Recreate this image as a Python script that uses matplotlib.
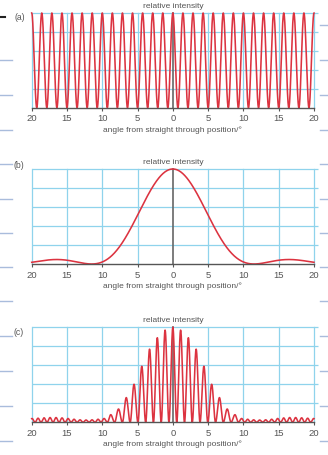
import matplotlib
matplotlib.use("Agg")
import matplotlib.pyplot as plt
import numpy as np
from matplotlib.lines import Line2D

W, H = 328, 456

# ---- values ----
ANGLE_TICKS = [-20, -15, -10, -5, 0, 5, 10, 15, 20]
TICK_LABELS = ["20", "15", "10", "5", "0", "5", "10", "15", "20"]
GRID_LEVELS = [0.2, 0.4, 0.6, 0.8, 1.0]
PANEL_LABELS = ["(a)", "(b)", "(c)"]

# (a) two-slit fringes: 14 fringes between 0 and 20 degrees
FRINGE_PERIOD_A = 20 / 14
# (b) single-slit envelope, first minimum near 11.5 degrees
FIRST_ZERO_B = 11.5
# (c) grating-like pattern: peak angles (one side, mirrored) and heights
PEAK_ANGLE_C = [0, 1.1, 2.2, 3.3, 4.4, 5.5, 6.6, 7.7, 8.8, 9.75, 10.6, 11.45,
                12.3, 13.15, 14.0, 14.85, 15.7, 16.55, 17.4, 18.25, 19.1,
                19.95, 20.8]
PEAK_HEIGHT_C = [1.0, 0.97, 0.89, 0.77, 0.59, 0.40, 0.26, 0.14, 0.08, 0.04,
                 0.032, 0.026, 0.024, 0.026, 0.032, 0.04, 0.046, 0.05, 0.05,
                 0.047, 0.043, 0.04, 0.036]

RED = "#dc3340"
CYAN = "#8fd3ec"
AXIS = "#555555"
TEXT = "#555555"
MARGIN = "#a9bcdc"
FONT = ["Liberation Sans Narrow", "Liberation Sans", "DejaVu Sans"]

theta = np.linspace(-20, 20, 4001)


def curve_a(t):
    return np.cos(np.pi * t / FRINGE_PERIOD_A) ** 2


def curve_b(t):
    return np.sinc(t / FIRST_ZERO_B) ** 2


def curve_c(t):
    a = np.abs(t)
    idx = np.interp(a, PEAK_ANGLE_C, np.arange(len(PEAK_ANGLE_C)))
    k = np.floor(idx).astype(int)
    frac = idx - k
    k1 = np.minimum(k + 1, len(PEAK_HEIGHT_C) - 1)
    h = np.where(frac < 0.5, np.take(PEAK_HEIGHT_C, k), np.take(PEAK_HEIGHT_C, k1))
    return h * np.cos(np.pi * frac) ** 2


plt.rcParams["font.family"] = FONT
fig = plt.figure(figsize=(W / 100, H / 100), dpi=100)

# axes boxes in pixels: (left, top, right, bottom)
boxes = [(31.7, 14, 314, 108.7), (31.7, 170, 314, 265), (31.7, 328.3, 314, 423.3)]
label_pos = [(14, 17), (13, 166), (13, 333)]
curves = [curve_a, curve_b, curve_c]

for (l, t, r, b), lab, (lx, ly), f in zip(boxes, PANEL_LABELS, label_pos, curves):
    ax = fig.add_axes([l / W, 1 - b / H, (r - l) / W, (b - t) / H])
    ax.set_xlim(-20, 20)
    ax.set_ylim(0, 1)
    for s in ("top", "left", "right"):
        ax.spines[s].set_visible(False)
    ax.spines["bottom"].set_color(AXIS)
    ax.spines["bottom"].set_linewidth(1.0)
    ax.spines["bottom"].set_zorder(4)

    for x in ANGLE_TICKS:
        if x != 0:
            ax.axvline(x, color=CYAN, lw=0.9, zorder=1, clip_on=False)
    ax.hlines(GRID_LEVELS, -20, 20.6, color=CYAN, lw=0.9, zorder=1, clip_on=False)
    ax.axvline(0, color="#666666", lw=1.2, zorder=2, clip_on=False)

    ax.plot(theta, f(theta), color=RED, lw=1.15, zorder=3, clip_on=False)

    ax.set_yticks([])
    ax.set_xticks(ANGLE_TICKS)
    ax.set_xticklabels(TICK_LABELS, fontsize=6.8, color=TEXT)
    ax.tick_params(axis="x", direction="out", length=2.5, width=0.8,
                   color=AXIS, pad=1.5)

    cx = (l + r) / 2
    fig.text(cx / W, 1 - (t - 8) / H, "relative intensity", ha="center",
             va="center", fontsize=6, color=TEXT)
    fig.text(cx / W, 1 - (b + 21.3) / H, "angle from straight through position/°",
             ha="center", va="center", fontsize=6, color=TEXT)
    fig.text(lx / W, 1 - ly / H, lab, ha="left", va="center", fontsize=6.2,
             color=TEXT)

# page rule marks in the margins
left_y = [61, 96, 131, 165, 200, 234, 268, 302, 337, 372, 407, 442]
right_y = [26] + left_y
for y in left_y:
    fig.add_artist(Line2D([0, 12 / W], [1 - y / H] * 2, color=MARGIN, lw=1.0,
                          transform=fig.transFigure))
for y in right_y:
    fig.add_artist(Line2D([320 / W, 1], [1 - y / H] * 2, color=MARGIN, lw=1.0,
                          transform=fig.transFigure))
fig.add_artist(Line2D([0, 5 / W], [1 - 18 / H] * 2, color="#222222", lw=1.5,
                      transform=fig.transFigure))

fig.savefig("out.png", dpi=100)
